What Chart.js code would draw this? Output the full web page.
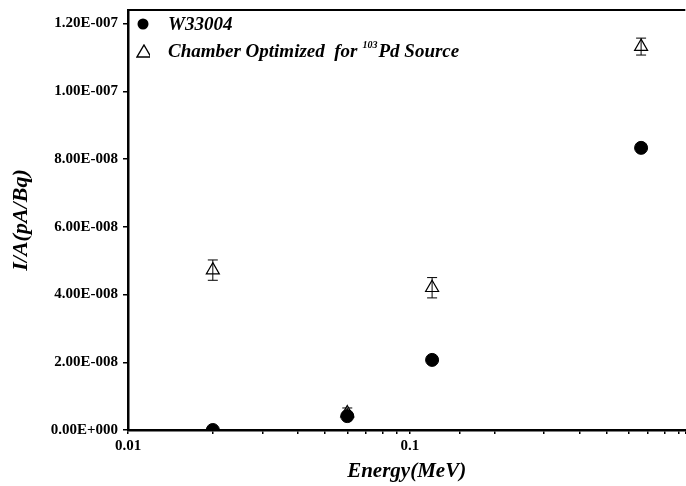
<!DOCTYPE html>
<html>
<head>
<meta charset="utf-8">
<script src="https://cdn.jsdelivr.net/npm/chart.js@4"></script>
<style>
  html, body { margin: 0; padding: 0; background: #fff; overflow: hidden; }
  #wrap { position: relative; width: 686px; height: 486px; overflow: hidden; }
  #legend { position: absolute; left: 136px; top: 10px; font-family: "Liberation Serif", serif;
    font-weight: bold; font-style: italic; font-size: 19px; color: #000; }
  #legend .row { display: flex; align-items: center; height: 27px; white-space: nowrap; }
  #legend .mk { width: 14px; margin-right: 18px; display: flex; justify-content: center; }
  #legend sup { font-size: 10px; vertical-align: 9px; margin-left: 5px; margin-right: 1px; }
</style>
</head>
<body>
<div id="wrap">
  <canvas id="chart" width="694" height="486"></canvas>
  <div id="legend">
    <div class="row"><span class="mk"><svg width="12" height="12"><circle cx="6" cy="6" r="5.5" fill="#000"/></svg></span><span>W33004</span></div>
    <div class="row"><span class="mk"><svg width="16" height="14"><polygon points="8,1 15,13 1,13" fill="none" stroke="#000" stroke-width="1.4"/></svg></span><span>Chamber Optimized&nbsp; for<sup>103</sup>Pd Source</span></div>
  </div>
</div>
<script>
// энергии (МэВ)
const energies = [0.02, 0.06, 0.12, 0.662];
// ток на единицу активности
const w33004 = [0, 0.41e-8, 2.07e-8, 8.33e-8];
const chamberPd = [4.72e-8, 0.5e-8, 4.2e-8, 11.32e-8];
const chamberErr = [0.3e-8, 0.15e-8, 0.3e-8, 0.25e-8];
const xLabels = [0.01, 0.1];
const yTicks = [0, 2e-8, 4e-8, 6e-8, 8e-8, 1e-7, 1.2e-7];

const FONT = "'Liberation Serif', 'Times New Roman', serif";

function yLabel(v) {
  if (v === 0) return "0.00E+000";
  const [m, e] = v.toExponential(2).split("e");
  const n = parseInt(e);
  return m + "E" + (n < 0 ? "-" : "+") + String(Math.abs(n)).padStart(3, "0");
}

// рисуем планки погрешностей и верхнюю рамку
const errorBars = {
  id: "errorBars",
  afterDatasetsDraw(chart) {
    const ctx = chart.ctx;
    const xs = chart.scales.x, ys = chart.scales.y;
    chart.data.datasets.forEach((ds) => {
      if (!ds.errors) return;
      ds.data.forEach((p, i) => {
        const px = xs.getPixelForValue(p.x);
        const y1 = ys.getPixelForValue(p.y - ds.errors[i]);
        const y2 = ys.getPixelForValue(p.y + ds.errors[i]);
        ctx.save();
        ctx.strokeStyle = "#000";
        ctx.lineWidth = 1;
        ctx.beginPath();
        ctx.moveTo(px, y1); ctx.lineTo(px, y2);
        ctx.moveTo(px - 5, y1); ctx.lineTo(px + 5, y1);
        ctx.moveTo(px - 5, y2); ctx.lineTo(px + 5, y2);
        ctx.stroke();
        ctx.restore();
      });
    });
    const a = chart.chartArea;
    ctx.save();
    ctx.strokeStyle = "#000";
    ctx.lineWidth = 2;
    ctx.beginPath();
    ctx.moveTo(a.left, a.top); ctx.lineTo(a.right, a.top);
    ctx.stroke();
    ctx.restore();
  }
};

new Chart(document.getElementById("chart"), {
  type: "scatter",
  data: {
    datasets: [
      {
        label: "W33004",
        data: energies.map((x, i) => ({ x: x, y: w33004[i] })),
        pointStyle: "circle",
        pointRadius: 6.5,
        backgroundColor: "#000",
        borderColor: "#000",
      },
      {
        label: "Chamber Optimized for 103Pd Source",
        data: energies.map((x, i) => ({ x: x, y: chamberPd[i] })),
        errors: chamberErr,
        pointStyle: "triangle",
        pointRadius: 7.5,
        borderWidth: 1.2,
        backgroundColor: "rgba(0,0,0,0)",
        borderColor: "#000",
      },
    ],
  },
  options: {
    responsive: false,
    animation: false,
    layout: { padding: { top: 10, right: 0, left: 0, bottom: 0 } },
    plugins: { legend: { display: false }, tooltip: { enabled: false } },
    scales: {
      x: {
        type: "logarithmic",
        min: 0.01,
        max: 0.95,
        afterFit(scale) { scale.height = 56; scale.paddingRight = 0; },
        grid: { drawOnChartArea: false, drawTicks: true, tickLength: 4, color: "#000", lineWidth: 1.5 },
        border: { color: "#000", width: 2.5 },
        ticks: {
          color: "#000",
          autoSkip: false,
          maxRotation: 0,
          padding: 3,
          font: { family: FONT, size: 15, weight: "bold" },
          callback: (v) => (xLabels.some((l) => Math.abs(l - v) < 1e-9) ? String(v) : ""),
        },
        title: {
          display: true,
          text: "Energy(MeV)",
          color: "#000",
          padding: { top: 2, bottom: 2 },
          font: { family: FONT, size: 21, weight: "bold", style: "italic" },
        },
      },
      y: {
        min: 0,
        max: 1.24e-7,
        afterFit(scale) { scale.width = 128; scale.paddingTop = 0; scale.paddingBottom = 0; },
        afterBuildTicks(scale) {
          scale.ticks = yTicks.map((v) => ({ value: v }));
        },
        grid: { drawOnChartArea: false, drawTicks: true, tickLength: 5, color: "#000", lineWidth: 1.5 },
        border: { color: "#000", width: 2.5 },
        ticks: {
          color: "#000",
          padding: 5,
          font: { family: FONT, size: 15, weight: "bold" },
          callback: (v) => yLabel(v),
        },
        title: {
          display: true,
          text: "I/A(pA/Bq)",
          color: "#000",
          padding: { top: 8, bottom: 0 },
          font: { family: FONT, size: 22, weight: "bold", style: "italic" },
        },
      },
    },
  },
  plugins: [errorBars],
});
</script>
</body>
</html>
